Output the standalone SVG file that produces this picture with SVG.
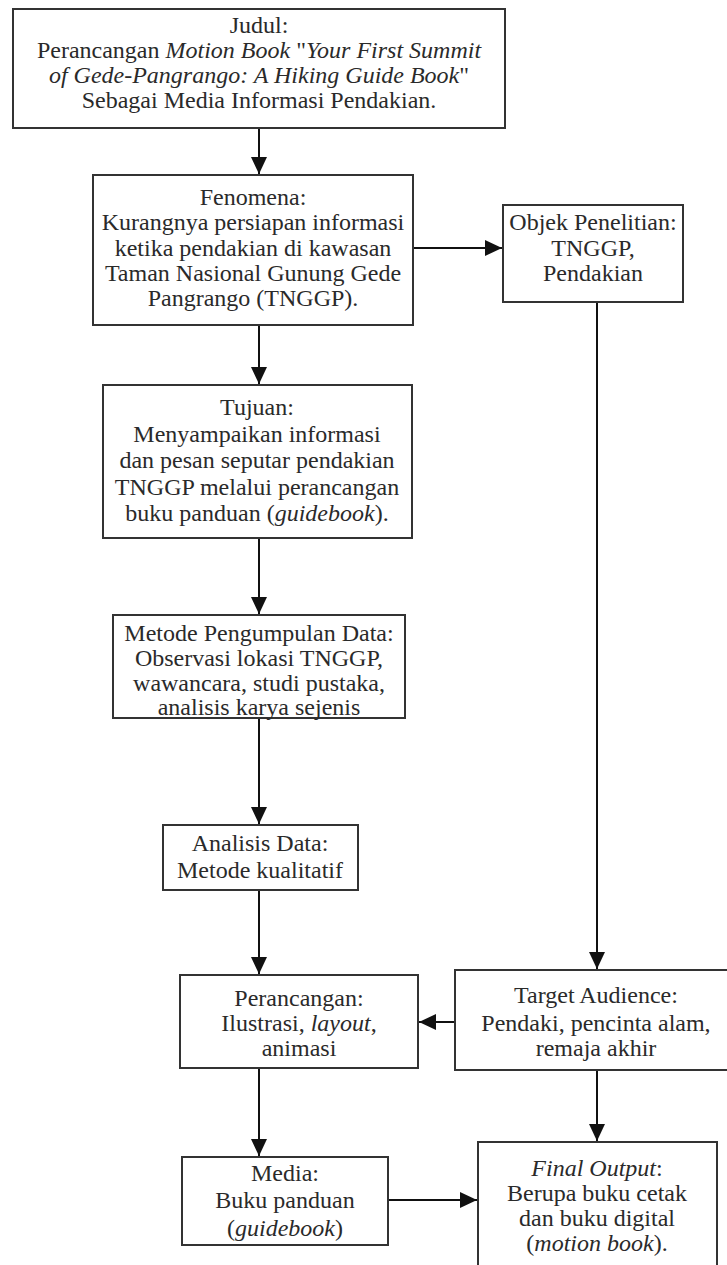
<svg xmlns="http://www.w3.org/2000/svg" width="727" height="1265" viewBox="0 0 727 1265">
<defs>
<style>
.box{fill:#fff;stroke:#333;stroke-width:2}
.lbl{font-size:24px;fill:#2a2a2a;text-anchor:middle}
.it{font-style:italic}
.c{stroke:#111;stroke-width:2;fill:none}
</style>
<marker id="ah" markerWidth="18" markerHeight="18" refX="17" refY="8" orient="auto" markerUnits="userSpaceOnUse">
<path d="M0,0 L17,8 L0,16 z" fill="#111"/>
</marker>
</defs>
<rect width="727" height="1265" fill="#fff"/>
<g id="connectors">
<line class="c" x1="259" y1="128" x2="259" y2="174" marker-end="url(#ah)"/>
<line class="c" x1="413" y1="248" x2="502" y2="248" marker-end="url(#ah)"/>
<line class="c" x1="259" y1="325" x2="259" y2="384" marker-end="url(#ah)"/>
<line class="c" x1="259" y1="538" x2="259" y2="614" marker-end="url(#ah)"/>
<line class="c" x1="259" y1="718" x2="259" y2="824" marker-end="url(#ah)"/>
<line class="c" x1="597" y1="302" x2="597" y2="969" marker-end="url(#ah)"/>
<line class="c" x1="259" y1="890" x2="259" y2="974" marker-end="url(#ah)"/>
<line class="c" x1="455" y1="1022" x2="419" y2="1022" marker-end="url(#ah)"/>
<line class="c" x1="259" y1="1068" x2="259" y2="1156" marker-end="url(#ah)"/>
<line class="c" x1="597" y1="1070" x2="597" y2="1141" marker-end="url(#ah)"/>
<line class="c" x1="388" y1="1200" x2="477" y2="1200" marker-end="url(#ah)"/>
</g>
<g id="judul">
<rect class="box" x="13" y="9" width="492" height="119"/>
<text class="lbl" style="font-family:'Liberation Serif',serif" x="259" y="33">Judul:</text>
<text class="lbl" style="font-family:'Liberation Serif',serif" x="259" y="58">Perancangan <tspan class="it">Motion Book</tspan> "<tspan class="it">Your First Summit</tspan></text>
<text class="lbl" style="font-family:'Liberation Serif',serif" x="259" y="83"><tspan class="it">of Gede-Pangrango: A Hiking Guide Book</tspan>"</text>
<text class="lbl" style="font-family:'Liberation Serif',serif" x="259" y="108">Sebagai Media Informasi Pendakian.</text>
</g>
<g id="fenomena">
<rect class="box" x="93" y="175" width="320" height="150"/>
<text class="lbl" style="font-family:'Liberation Serif',serif" x="253" y="205">Fenomena:</text>
<text class="lbl" style="font-family:'Liberation Serif',serif" x="253" y="230">Kurangnya persiapan informasi</text>
<text class="lbl" style="font-family:'Liberation Serif',serif" x="253" y="256">ketika pendakian di kawasan</text>
<text class="lbl" style="font-family:'Liberation Serif',serif" x="253" y="281">Taman Nasional Gunung Gede</text>
<text class="lbl" style="font-family:'Liberation Serif',serif" x="253" y="306">Pangrango (TNGGP).</text>
</g>
<g id="objek">
<rect class="box" x="503" y="205" width="180" height="97"/>
<text class="lbl" style="font-family:'Liberation Serif',serif" x="593" y="230">Objek Penelitian:</text>
<text class="lbl" style="font-family:'Liberation Serif',serif" x="593" y="256">TNGGP,</text>
<text class="lbl" style="font-family:'Liberation Serif',serif" x="593" y="281">Pendakian</text>
</g>
<g id="tujuan">
<rect class="box" x="103" y="385" width="309" height="153"/>
<text class="lbl" style="font-family:'Liberation Serif',serif" x="257" y="415">Tujuan:</text>
<text class="lbl" style="font-family:'Liberation Serif',serif" x="257" y="442">Menyampaikan informasi</text>
<text class="lbl" style="font-family:'Liberation Serif',serif" x="257" y="468">dan pesan seputar pendakian</text>
<text class="lbl" style="font-family:'Liberation Serif',serif" x="257" y="495">TNGGP melalui perancangan</text>
<text class="lbl" style="font-family:'Liberation Serif',serif" x="257" y="521">buku panduan (<tspan class="it">guidebook</tspan>).</text>
</g>
<g id="metode">
<rect class="box" x="113" y="615" width="292" height="103"/>
<text class="lbl" style="font-family:'Liberation Serif',serif" x="259" y="641">Metode Pengumpulan Data:</text>
<text class="lbl" style="font-family:'Liberation Serif',serif" x="259" y="666">Observasi lokasi TNGGP,</text>
<text class="lbl" style="font-family:'Liberation Serif',serif" x="259" y="691">wawancara, studi pustaka,</text>
<text class="lbl" style="font-family:'Liberation Serif',serif" x="259" y="715">analisis karya sejenis</text>
</g>
<g id="analisis">
<rect class="box" x="163" y="825" width="195" height="65"/>
<text class="lbl" style="font-family:'Liberation Serif',serif" x="260" y="851">Analisis Data:</text>
<text class="lbl" style="font-family:'Liberation Serif',serif" x="260" y="878">Metode kualitatif</text>
</g>
<g id="perancangan">
<rect class="box" x="180" y="975" width="238" height="93"/>
<text class="lbl" style="font-family:'Liberation Serif',serif" x="299" y="1006">Perancangan:</text>
<text class="lbl" style="font-family:'Liberation Serif',serif" x="299" y="1031">Ilustrasi, <tspan class="it">layout</tspan>,</text>
<text class="lbl" style="font-family:'Liberation Serif',serif" x="299" y="1056">animasi</text>
</g>
<g id="target">
<rect class="box" x="455" y="970" width="280" height="100"/>
<text class="lbl" style="font-family:'Liberation Serif',serif" x="596" y="1003">Target Audience:</text>
<text class="lbl" style="font-family:'Liberation Serif',serif" x="596" y="1031">Pendaki, pencinta alam,</text>
<text class="lbl" style="font-family:'Liberation Serif',serif" x="596" y="1056">remaja akhir</text>
</g>
<g id="media">
<rect class="box" x="182" y="1157" width="206" height="88"/>
<text class="lbl" style="font-family:'Liberation Serif',serif" x="285" y="1181">Media:</text>
<text class="lbl" style="font-family:'Liberation Serif',serif" x="285" y="1208">Buku panduan</text>
<text class="lbl" style="font-family:'Liberation Serif',serif" x="285" y="1236">(<tspan class="it">guidebook</tspan>)</text>
</g>
<g id="final">
<rect class="box" x="478" y="1142" width="239" height="140"/>
<text class="lbl" style="font-family:'Liberation Serif',serif" x="597" y="1176"><tspan class="it">Final Output</tspan>:</text>
<text class="lbl" style="font-family:'Liberation Serif',serif" x="597" y="1201">Berupa buku cetak</text>
<text class="lbl" style="font-family:'Liberation Serif',serif" x="597" y="1226">dan buku digital</text>
<text class="lbl" style="font-family:'Liberation Serif',serif" x="597" y="1251">(<tspan class="it">motion book</tspan>).</text>
</g>
</svg>
